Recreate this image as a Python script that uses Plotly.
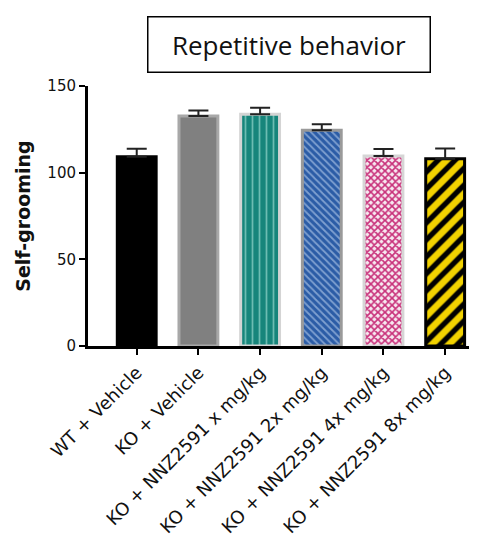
import plotly.graph_objects as go

categories = ["WT + Vehicle", "KO + Vehicle", "KO + NNZ2591 x mg/kg",
              "KO + NNZ2591 2x mg/kg", "KO + NNZ2591 4x mg/kg", "KO + NNZ2591 8x mg/kg"]
means = [109.2, 132.7, 133.7, 124.4, 109.6, 108.0]
sem = [4.6, 3.1, 3.8, 3.5, 4.1, 6.0]
y_ticks = [0, 50, 100, 150]
title_text = "Repetitive behavior"
y_title = "Self-grooming"

fills = ["#000000", "#808080", "#17857b", "#2b5ca6", "#f7e9f0", "#f2d200"]
borders = ["#000000", "#a8a8a8", "#d4d4d4", "#9a9a9a", "#d6d6d6", "#000000"]
pat_shapes = ["", "", "|", "\\", "x", "/"]
pat_fg = ["#000000", "#808080", "#6dbcb2", "#7fa0d0", "#c8307a", "#000000"]
pat_size = [8, 8, 7, 5, 5, 12]
pat_solid = [0.3, 0.3, 0.25, 0.35, 0.55, 0.45]

fig = go.Figure()
for i, c in enumerate(categories):
    fig.add_trace(go.Bar(
        x=[c], y=[means[i]],
        width=0.63,
        marker=dict(
            color=fills[i],
            line=dict(color=borders[i], width=3),
            pattern=dict(shape=pat_shapes[i], fgcolor=pat_fg[i], bgcolor=fills[i],
                         size=pat_size[i], solidity=pat_solid[i], fillmode="replace"),
        ),
        error_y=dict(type="data", array=[sem[i]], arrayminus=[0], symmetric=False,
                     color="#222222", thickness=2, width=10),
        showlegend=False,
    ))

fig.update_layout(
    width=469, height=537,
    margin=dict(l=80, r=1, t=78, b=199),
    plot_bgcolor="white", paper_bgcolor="white",
    xaxis=dict(
        range=[-0.79, 5.5], showline=True, linecolor="black", linewidth=3,
        ticks="outside", tickcolor="black", ticklen=6, tickwidth=2,
        tickangle=-45, showgrid=False, zeroline=False,
        tickfont=dict(family="DejaVu Sans", size=18, color="#111111"),
    ),
    yaxis=dict(
        range=[0, 150], tickvals=y_ticks, showline=True, linecolor="black", linewidth=3,
        ticks="outside", tickcolor="black", ticklen=6, tickwidth=2,
        showgrid=False, zeroline=False,
        tickfont=dict(family="DejaVu Sans", size=15, color="#111111"),
        title=dict(text=y_title, standoff=12,
                   font=dict(family="DejaVu Sans", size=19, color="#111111", weight="bold")),
    ),
    annotations=[dict(
        text=title_text, xref="paper", yref="paper", x=0.517, y=1.16,
        xanchor="center", yanchor="middle", showarrow=False,
        width=279, height=52, borderwidth=1.5, bordercolor="black", borderpad=1,
        bgcolor="white",
        font=dict(family="Open Sans", size=26, color="#111111"),
    )],
)

fig.write_html("out.html")
